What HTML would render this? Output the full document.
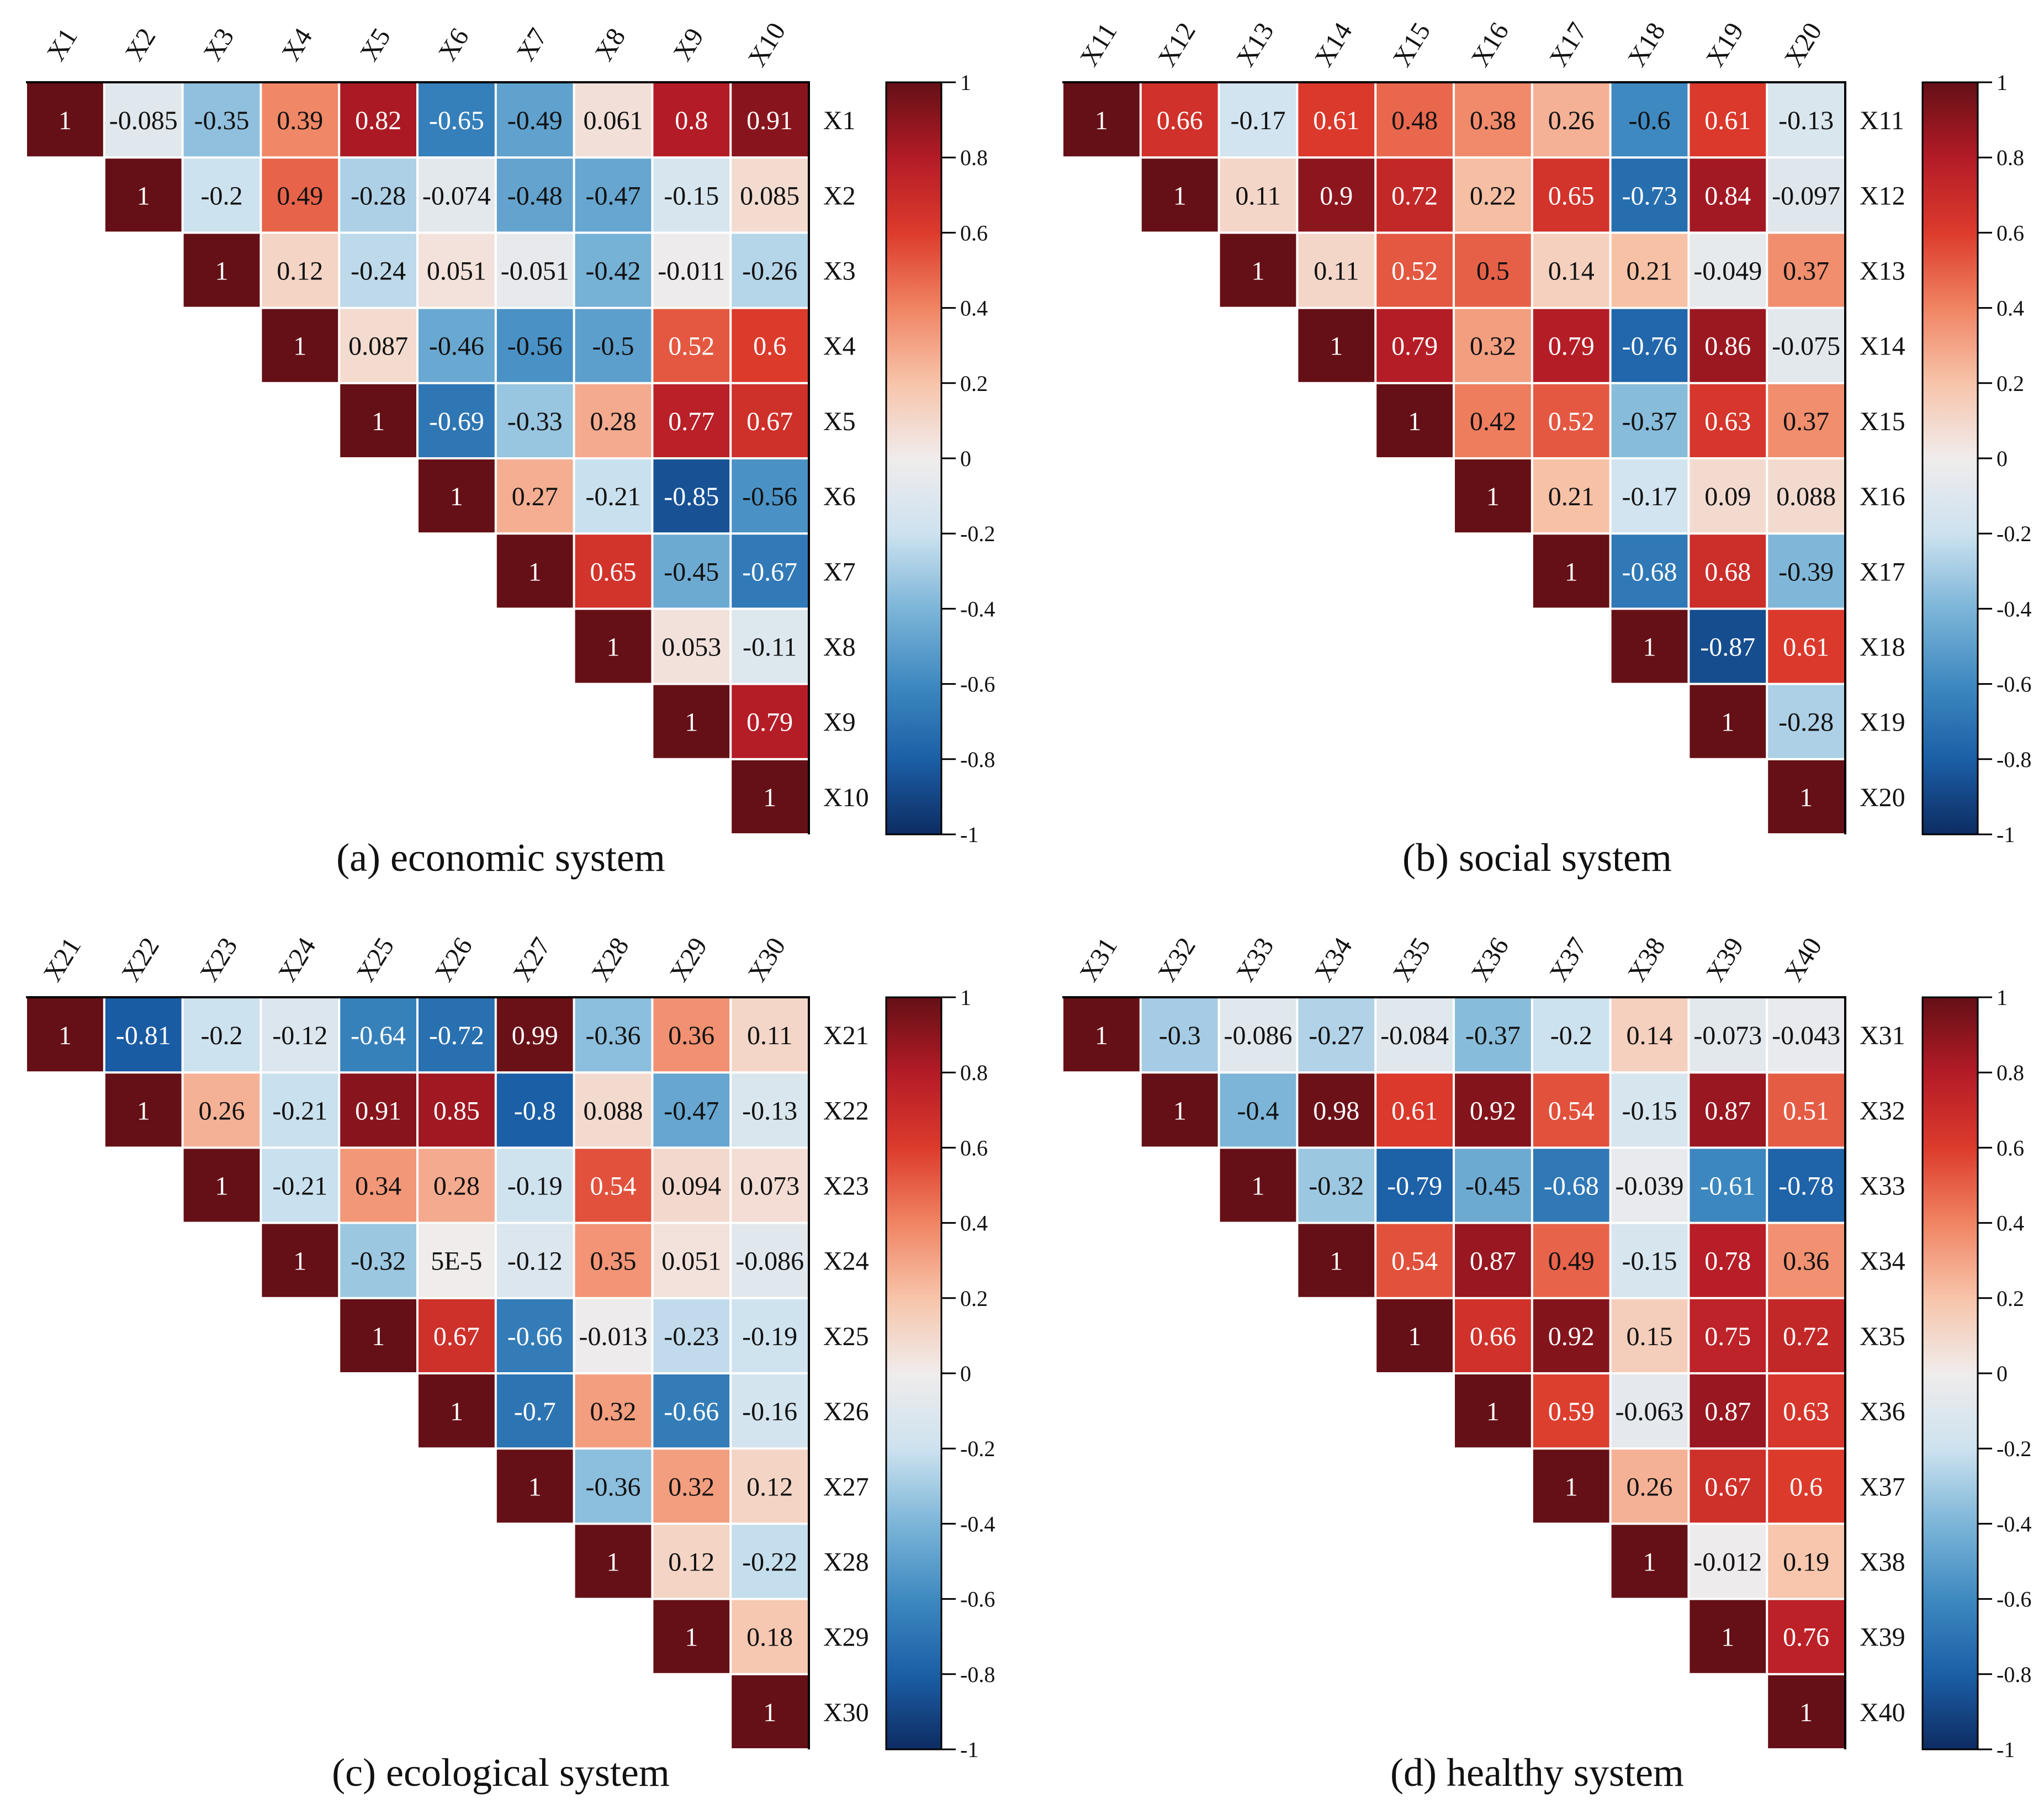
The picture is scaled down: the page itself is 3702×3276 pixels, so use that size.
<!DOCTYPE html>
<html><head><meta charset="utf-8"><style>
html,body{margin:0;padding:0;background:#fff;}
svg{display:block;font-family:"Liberation Serif",serif;}
</style></head><body>
<svg id="fig" width="3702" height="3276" viewBox="0 0 3702 3276" xmlns="http://www.w3.org/2000/svg">
<defs>
<linearGradient id="cbgrad" x1="0" y1="0" x2="0" y2="1">
<stop offset="0" stop-color="#651016"/><stop offset="0.1" stop-color="#b31b26"/>
<stop offset="0.2" stop-color="#dc3b2c"/><stop offset="0.3" stop-color="#f08463"/>
<stop offset="0.4" stop-color="#f7c4aa"/><stop offset="0.5" stop-color="#f0ecec"/>
<stop offset="0.6" stop-color="#cde2ef"/><stop offset="0.7" stop-color="#7cb5d8"/>
<stop offset="0.8" stop-color="#3e89c0"/><stop offset="0.9" stop-color="#1b5fa6"/>
<stop offset="1" stop-color="#0e2c62"/>
</linearGradient>
</defs>
</svg>
<script>
const titlesA = ["(a) economic system","(b) social system","(c) ecological system","(d) healthy system"];
const varStart = [1,11,21,31];
const cbTicks = ["1","0.8","0.6","0.4","0.2","0","-0.2","-0.4","-0.6","-0.8","-1"];
const matA = [
["1","-0.085","-0.35","0.39","0.82","-0.65","-0.49","0.061","0.8","0.91"],
["1","-0.2","0.49","-0.28","-0.074","-0.48","-0.47","-0.15","0.085"],
["1","0.12","-0.24","0.051","-0.051","-0.42","-0.011","-0.26"],
["1","0.087","-0.46","-0.56","-0.5","0.52","0.6"],
["1","-0.69","-0.33","0.28","0.77","0.67"],
["1","0.27","-0.21","-0.85","-0.56"],
["1","0.65","-0.45","-0.67"],
["1","0.053","-0.11"],
["1","0.79"],
["1"]];
const matB = [
["1","0.66","-0.17","0.61","0.48","0.38","0.26","-0.6","0.61","-0.13"],
["1","0.11","0.9","0.72","0.22","0.65","-0.73","0.84","-0.097"],
["1","0.11","0.52","0.5","0.14","0.21","-0.049","0.37"],
["1","0.79","0.32","0.79","-0.76","0.86","-0.075"],
["1","0.42","0.52","-0.37","0.63","0.37"],
["1","0.21","-0.17","0.09","0.088"],
["1","-0.68","0.68","-0.39"],
["1","-0.87","0.61"],
["1","-0.28"],
["1"]];
const matC = [
["1","-0.81","-0.2","-0.12","-0.64","-0.72","0.99","-0.36","0.36","0.11"],
["1","0.26","-0.21","0.91","0.85","-0.8","0.088","-0.47","-0.13"],
["1","-0.21","0.34","0.28","-0.19","0.54","0.094","0.073"],
["1","-0.32","5E-5","-0.12","0.35","0.051","-0.086"],
["1","0.67","-0.66","-0.013","-0.23","-0.19"],
["1","-0.7","0.32","-0.66","-0.16"],
["1","-0.36","0.32","0.12"],
["1","0.12","-0.22"],
["1","0.18"],
["1"]];
const matD = [
["1","-0.3","-0.086","-0.27","-0.084","-0.37","-0.2","0.14","-0.073","-0.043"],
["1","-0.4","0.98","0.61","0.92","0.54","-0.15","0.87","0.51"],
["1","-0.32","-0.79","-0.45","-0.68","-0.039","-0.61","-0.78"],
["1","0.54","0.87","0.49","-0.15","0.78","0.36"],
["1","0.66","0.92","0.15","0.75","0.72"],
["1","0.59","-0.063","0.87","0.63"],
["1","0.26","0.67","0.6"],
["1","-0.012","0.19"],
["1","0.76"],
["1"]];
const mats = [matA,matB,matC,matD];

const NS="http://www.w3.org/2000/svg";
const svg=document.getElementById('fig');
const stops=[[1,[101,16,22]],[0.8,[179,27,38]],[0.6,[220,59,44]],[0.4,[240,132,99]],[0.2,[247,196,170]],[0,[240,236,236]],[-0.2,[205,226,239]],[-0.4,[124,181,216]],[-0.6,[62,137,192]],[-0.8,[27,95,166]],[-1,[14,44,98]]];
function color(v){v=Math.max(-1,Math.min(1,v));
 for(let i=0;i<stops.length-1;i++){const a=stops[i],b=stops[i+1];
  if(v<=a[0]&&v>=b[0]){const t=(a[0]-v)/(a[0]-b[0]);
   const c=a[1].map((x,k)=>Math.round(x+(b[1][k]-x)*t));return `rgb(${c})`;}}
 return 'rgb(240,236,236)';}
function el(tag,attrs,parent){const e=document.createElementNS(NS,tag);for(const k in attrs)e.setAttribute(k,attrs[k]);(parent||svg).appendChild(e);return e;}
const origins=[[47,149],[1924,149],[47,1806],[1924,1806]];
const CW=141.8, CH=136.2, N=10;
function xS(o,j){return o[0]+j*CW;}
function yS(o,i){return o[1]+i*CH;}
mats.forEach((m,p)=>{
 const o=origins[p];
 const g=el('g',{});
 
 
 m.forEach((row,i)=>{row.forEach((s,k)=>{
  const j=i+k, v=parseFloat(s);
  const r=el('rect',{x:xS(o,j)+2,y:yS(o,i)+2,width:CW-4,height:CH-4,fill:color(v)},g);
  
  
  const t=el('text',{x:xS(o,j)+CW/2,y:yS(o,i)+CH/2+17,'text-anchor':'middle','font-size':48,fill:(v>0.5||v<-0.6)?'#fff':'#111'},g);
  t.textContent=s;
  
  
 });});
 el('line',{x1:o[0],y1:o[1],x2:o[0]+N*CW+2,y2:o[1],stroke:'#000','stroke-width':4},g);
 el('line',{x1:o[0]+N*CW,y1:o[1],x2:o[0]+N*CW,y2:o[1]+N*CH,stroke:'#000','stroke-width':4},g);
 for(let j=0;j<N;j++){
  const lab='X'+(varStart[p]+j);
  const cx=xS(o,j)+CW/2+8, cy=o[1]-60;
  const t=el('text',{x:cx,y:cy,'text-anchor':'middle','font-size':48,fill:'#111',transform:`rotate(-58 ${cx} ${cy})`},g);
  t.textContent=lab;
  
  
  const t2=el('text',{x:o[0]+N*CW+26,y:yS(o,j)+CH/2+17,'font-size':48,fill:'#111'},g);
  t2.textContent=lab;
  
  
 }
 const cbx=o[0]+1558, cbw=100, cbh=N*CH;
 const cb=el('rect',{x:cbx,y:o[1],width:cbw,height:cbh,fill:'url(#cbgrad)',stroke:'#000','stroke-width':3},g);
 
 
 cbTicks.forEach((tk,i)=>{
  const v=parseFloat(tk), y=o[1]+(1-v)/2*cbh;
  el('line',{x1:cbx+cbw,y1:y,x2:cbx+cbw+26,y2:y,stroke:'#000','stroke-width':3},g);
  const t=el('text',{x:cbx+cbw+34,y:y+14,'font-size':40,fill:'#111'},g);
  t.textContent=tk;
  
  
 });
 const tt=el('text',{x:o[0]+860,y:o[1]+N*CH+66,'text-anchor':'middle','font-size':72,fill:'#111'},g);
 tt.textContent=titlesA[p];
 
 
});
</script>
</body></html>
